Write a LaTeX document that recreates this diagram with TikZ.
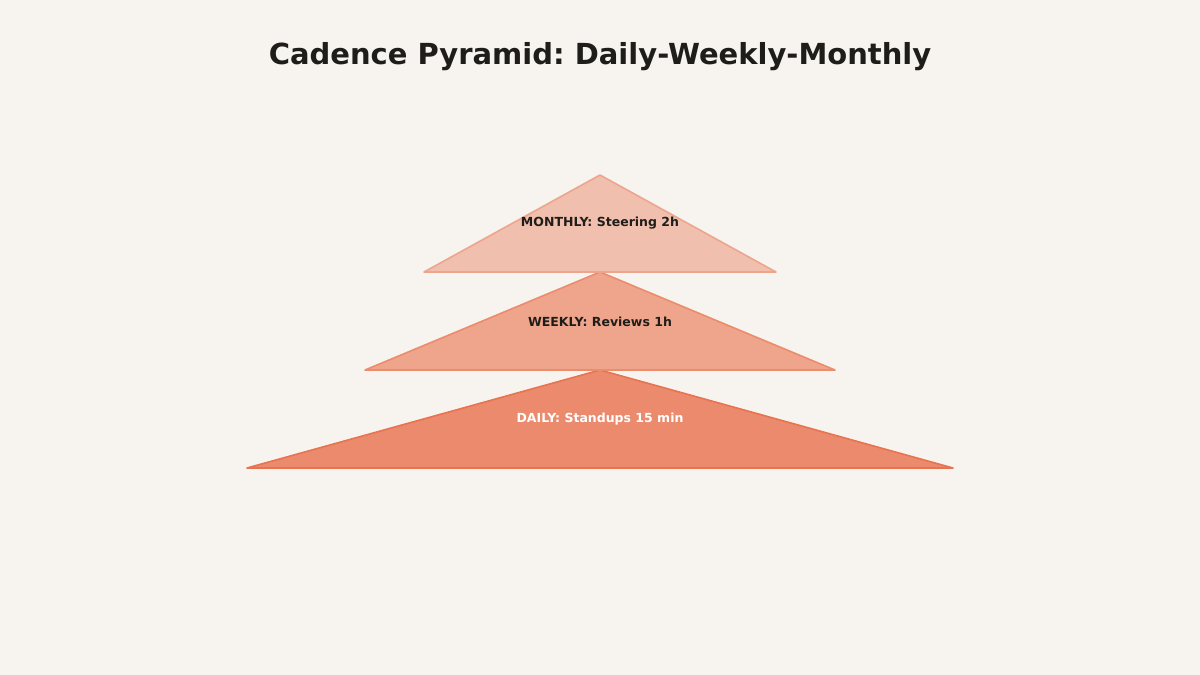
\documentclass[tikz,border=0pt]{standalone}
\usepackage{fontspec}
\setmainfont{DejaVu Sans}
\frenchspacing
\definecolor{bg}{HTML}{F7F4F0}
\definecolor{ink}{HTML}{1F1D1A}
\definecolor{fillA}{HTML}{F1BFAD}
\definecolor{fillB}{HTML}{EFA58B}
\definecolor{fillC}{HTML}{EB8A6C}
\definecolor{edgeA}{HTML}{EDA58D}
\definecolor{edgeB}{HTML}{EB8C6C}
\definecolor{edgeC}{HTML}{E8734F}
\tikzset{
  tier/.style={line width=1.6pt, line join=round},
  lbl/.style={font=\bfseries\fontsize{12.5}{15}\selectfont, text=ink, anchor=center},
  ttl/.style={font=\bfseries\fontsize{29}{35}\selectfont, text=ink, anchor=center}
}
\begin{document}
\begin{tikzpicture}[x=1pt,y=-1pt]
\fill[bg] (0,0) rectangle (1200,675);
\useasboundingbox (0,0) rectangle (1200,675);
\node[ttl] (title) at (600,57) {Cadence Pyramid: Daily-Weekly-Monthly};
\draw[tier, fill=fillC, draw=edgeC] (247,468) -- (600,370) -- (953,468) -- cycle;
\draw[tier, fill=fillB, draw=edgeB] (365,370) -- (600,272) -- (835,370) -- cycle;
\draw[tier, fill=fillA, draw=edgeA] (424,272) -- (600,175) -- (776,272) -- cycle;
\node[lbl] (monthly) at (600,223.5) {MONTHLY: Steering 2h};
\node[lbl] (weekly) at (600,321.5) {WEEKLY: Reviews 1h};
\node[lbl, text=white] (daily) at (600,419.5) {DAILY: Standups 15 min};
\end{tikzpicture}
\end{document}
